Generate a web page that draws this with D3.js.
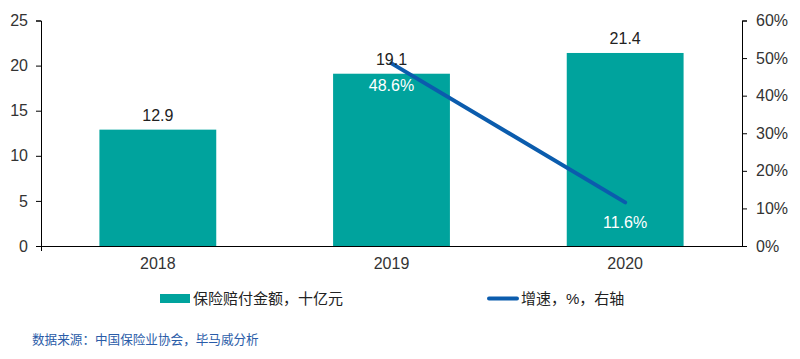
<!DOCTYPE html>
<html><head><meta charset="utf-8">
<script src="https://cdn.jsdelivr.net/npm/d3@7/dist/d3.min.js"></script>
<style>
body{margin:0;background:#fff;}
text{font-family:"Liberation Sans",Arial,"Noto Sans CJK SC",sans-serif;}
</style></head>
<body><svg id="c" width="800" height="359"></svg>
<script>
const years = ["2018","2019","2020"];
const claims = [12.9, 19.1, 21.4];
const growth = [null, 48.6, 11.6];
const leftTicks = [0,5,10,15,20,25];
const rightTicks = [0,10,20,30,40,50,60];
const legendLabels = ["保险赔付金额，十亿元","增速，%，右轴"];
const sourceText = "数据来源：中国保险业协会，毕马威分析";

const svg = d3.select("#c");
const m = {l:41, r:742, t:20.5, b:246};
const x = d3.scaleBand().domain(years).range([m.l, m.r]).paddingInner(0.5).paddingOuter(0.25);
const yL = d3.scaleLinear().domain([0,25]).range([m.b, m.t]);
const yR = d3.scaleLinear().domain([0,60]).range([m.b, m.t]);
const teal = "#00A39D", blue = "#0B5CAD", txt = "#222";

// bars
svg.selectAll("rect.bar").data(years).enter().append("rect")
  .attr("x", d=>x(d)).attr("width", x.bandwidth())
  .attr("y", (d,i)=>yL(claims[i])).attr("height", (d,i)=>m.b - yL(claims[i]))
  .attr("fill", teal);

// axes
const ga = svg.append("g").attr("transform",`translate(${m.l},0)`)
  .call(d3.axisLeft(yL).tickValues(leftTicks).tickSize(5).tickPadding(8));
const gr = svg.append("g").attr("transform",`translate(${m.r},0)`)
  .call(d3.axisRight(yR).tickValues(rightTicks).tickSize(5).tickPadding(9).tickFormat(d=>d+"%"));
const gx = svg.append("g").attr("transform",`translate(0,${m.b})`)
  .call(d3.axisBottom(x).tickSize(0).tickPadding(12));
gx.select(".domain").attr("d", `M${m.l},0.5H${m.r}`);
svg.append("line").attr("x1",m.l+0.5).attr("x2",m.l+0.5).attr("y1",m.b).attr("y2",m.b+5).attr("stroke","#000");
[ga,gr,gx].forEach(g=>{
  g.selectAll("text").attr("font-size",16).attr("fill","#333").style("font-family",'"Liberation Sans",Arial,sans-serif');
  g.selectAll("path,line").attr("stroke","#000");
});

// line
const pts = years.map((d,i)=>[d,growth[i]]).filter(p=>p[1]!=null);
svg.append("path").datum(pts)
  .attr("d", d3.line().x(p=>x(p[0])+x.bandwidth()/2).y(p=>yR(p[1])))
  .attr("fill","none").attr("stroke",blue).attr("stroke-width",4).attr("stroke-linecap","round");

// bar labels
svg.selectAll("text.bl").data(years).enter().append("text")
  .attr("x", d=>x(d)+x.bandwidth()/2).attr("y",(d,i)=>yL(claims[i])-9)
  .attr("text-anchor","middle").attr("font-size",16).attr("fill",txt)
  .text((d,i)=>claims[i].toFixed(1));

// growth labels
svg.selectAll("text.gl").data(pts).enter().append("text")
  .attr("x", p=>x(p[0])+x.bandwidth()/2).attr("y",(p,i)=> i===0 ? yR(p[1])+28 : yR(p[1])+26)
  .attr("text-anchor","middle").attr("font-size",16).attr("fill","#fff")
  .text(p=>p[1].toFixed(1)+"%");

// legend
svg.append("rect").attr("x",160).attr("y",294).attr("width",30).attr("height",9).attr("fill",teal);
svg.append("text").attr("x",193).attr("y",304).attr("font-size",15).attr("fill",txt).text(legendLabels[0]);
svg.append("line").attr("x1",489).attr("x2",517).attr("y1",298.5).attr("y2",298.5)
  .attr("stroke",blue).attr("stroke-width",4).attr("stroke-linecap","round");
svg.append("text").attr("x",521).attr("y",304).attr("font-size",15).attr("fill",txt).text(legendLabels[1]);

// source
svg.append("text").attr("x",32).attr("y",344).attr("font-size",12.6).attr("fill","#2A5CA8").text(sourceText);
</script></body></html>
